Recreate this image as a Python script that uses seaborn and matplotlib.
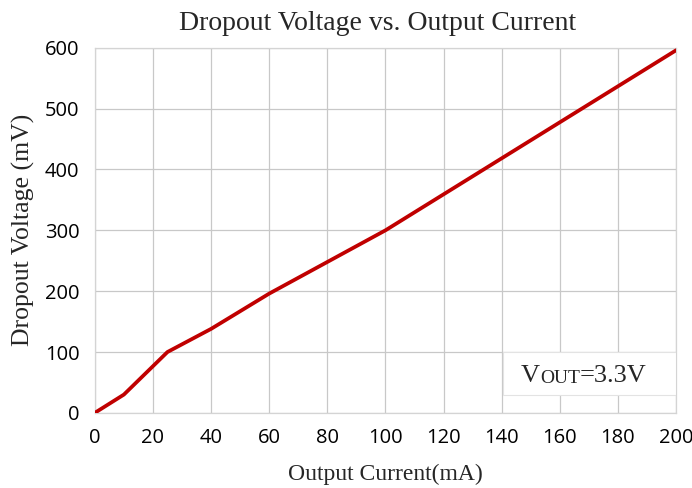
import pandas as pd
import matplotlib.pyplot as plt
import seaborn as sns
from matplotlib.patches import Rectangle

# valeurs
output_current_ma = [0, 10, 25, 40, 60, 80, 100, 200]
dropout_voltage_mv = [0, 30, 100, 138, 196, 248, 300, 596]
x_ticks = [0, 20, 40, 60, 80, 100, 120, 140, 160, 180, 200]
y_ticks = [0, 100, 200, 300, 400, 500, 600]

data = pd.DataFrame({'Courant': output_current_ma, 'Tension': dropout_voltage_mv})

sns.set_style('whitegrid')
plt.rcParams['font.family'] = ['Open Sans', 'DejaVu Sans']

fig = plt.figure(figsize=(6.92, 4.88), dpi=100)
ax = fig.add_axes([0.137, 0.154, 0.840, 0.748])

sns.lineplot(x='Courant', y='Tension', data=data, color='#C00000', linewidth=2.7, ax=ax, zorder=5)

ax.set_xlim(0, 200)
ax.set_ylim(0, 600)
ax.set_xticks(x_ticks)
ax.set_yticks(y_ticks)
ax.tick_params(axis='both', length=0, labelsize=14.5, colors='black')
ax.tick_params(axis='x', pad=11)
ax.tick_params(axis='y', pad=11)
ax.grid(True, color='#c8c8c8', linewidth=0.9)
for spine in ax.spines.values():
    spine.set_color('#d4d4d4')
    spine.set_linewidth(0.9)

serif = ['Liberation Serif', 'DejaVu Serif']
ax.set_xlabel('Output Current(mA)', fontsize=17, family=serif, labelpad=11)
ax.set_ylabel('Dropout Voltage (mV)', fontsize=18.5, family=serif, labelpad=7)
fig.text(0.546, 0.951, 'Dropout Voltage vs. Output Current', ha='center', va='center',
         fontsize=20, family=serif)

# encadré Vout
ax.add_patch(Rectangle((0.702, 0.048), 0.298, 0.118, transform=ax.transAxes,
                       facecolor='white', edgecolor='#e3e3e3', linewidth=0.8, zorder=3))
t1 = ax.text(0.733, 0.085, 'V', transform=ax.transAxes, fontsize=19, family=serif, zorder=6)
t2 = ax.annotate('OUT', xy=(1, 0), xycoords=t1, va='bottom', fontsize=14, family=serif, zorder=6)
ax.annotate('=3.3V', xy=(1, 0), xycoords=t2, va='bottom', fontsize=19, family=serif, zorder=6)

plt.savefig('out.png', dpi=100)
